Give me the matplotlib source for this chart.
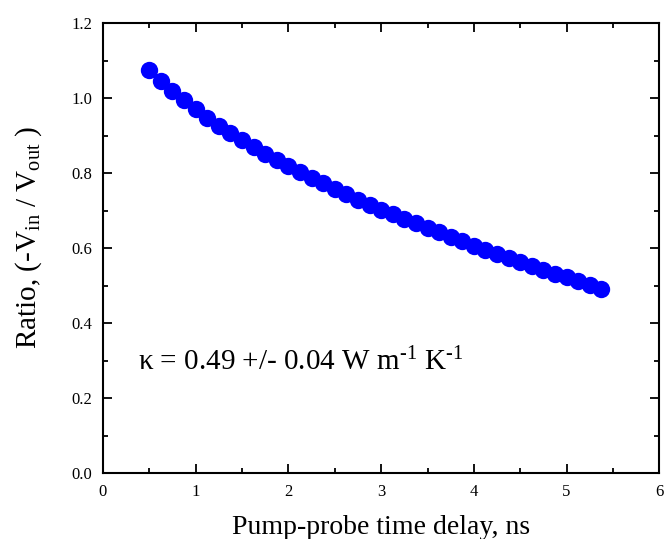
import matplotlib
matplotlib.use("Agg")
import matplotlib.pyplot as plt
from matplotlib.ticker import MultipleLocator, FormatStrFormatter

plt.rcParams['font.family'] = ['Liberation Serif', 'DejaVu Serif']
plt.rcParams['mathtext.fontset'] = 'custom'
plt.rcParams['mathtext.rm'] = 'Liberation Serif'
plt.rcParams['mathtext.it'] = 'Liberation Serif'
plt.rcParams['mathtext.default'] = 'regular'

# pump-probe delay (ns) and ratio
delay = [0.500, 0.625, 0.750, 0.875, 1.000, 1.125, 1.250, 1.375, 1.500, 1.625,
         1.750, 1.875, 2.000, 2.125, 2.250, 2.375, 2.500, 2.625, 2.750, 2.875,
         3.000, 3.125, 3.250, 3.375, 3.500, 3.625, 3.750, 3.875, 4.000, 4.125,
         4.250, 4.375, 4.500, 4.625, 4.750, 4.875, 5.000, 5.125, 5.250, 5.375]
ratio = [1.074, 1.047, 1.019, 0.994, 0.971, 0.948, 0.927, 0.908, 0.889, 0.869,
         0.851, 0.834, 0.818, 0.803, 0.788, 0.773, 0.758, 0.744, 0.729, 0.716,
         0.702, 0.690, 0.678, 0.666, 0.655, 0.644, 0.631, 0.618, 0.607, 0.595,
         0.584, 0.573, 0.563, 0.553, 0.542, 0.532, 0.522, 0.512, 0.502, 0.491]

fig = plt.figure(figsize=(6.64, 5.39), dpi=100)
ax = fig.add_axes([0.155, 0.122, 0.838, 0.835])

ax.plot(delay, ratio, 'o', color='#0000ff', markersize=12.5, markeredgewidth=0)

ax.set_xlim(0, 6)
ax.set_ylim(0, 1.2)
ax.xaxis.set_major_locator(MultipleLocator(1))
ax.xaxis.set_minor_locator(MultipleLocator(0.5))
ax.yaxis.set_major_locator(MultipleLocator(0.2))
ax.yaxis.set_minor_locator(MultipleLocator(0.1))
ax.yaxis.set_major_formatter(FormatStrFormatter('%.1f'))

ax.tick_params(which='both', direction='in', top=True, right=True,
               width=1.3, labelsize=12)
ax.tick_params(which='major', length=6.5, pad=7.5)
ax.tick_params(which='minor', length=3.5)
for s in ax.spines.values():
    s.set_linewidth(1.5)

ax.set_xlabel('Pump-probe time delay, ns', fontsize=20, labelpad=11)
ax.set_ylabel('Ratio, (-V$_{in}$ / V$_{out}$ )', fontsize=21)
ax.yaxis.set_label_coords(-0.105, 0.525)

ax.text(0.38, 0.275, 'κ = 0.49 +/- 0.04 W m$^{\u20101}$ K$^{\u20101}$',
        fontsize=21, va='baseline', ha='left')

fig.savefig('out.png', dpi=100)
